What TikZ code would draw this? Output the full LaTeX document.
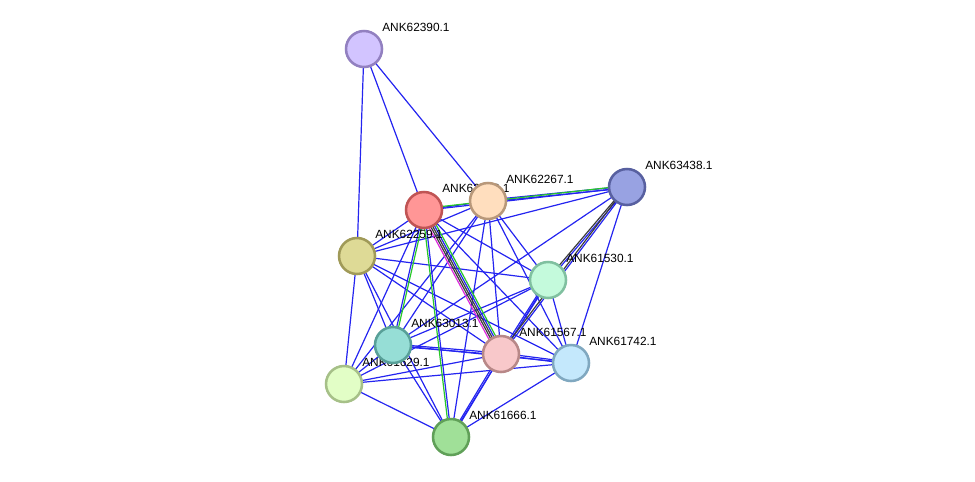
\documentclass[tikz,border=0pt]{standalone}
\usepackage{fontspec}
\setmainfont{Liberation Sans}
\usetikzlibrary{calc}
\definecolor{edgeblue}{RGB}{36,36,240}
\definecolor{edgegreen}{RGB}{40,200,40}
\definecolor{edgegray}{RGB}{60,60,60}
\definecolor{edgepink}{RGB}{220,40,220}
\pgfdeclarelayer{bg}
\pgfsetlayers{bg,main}
% one line of an edge, shifted sideways by #4
\newcommand{\link}[4][edgeblue]{%
  \draw[edge,#1] ($(#2)!#4!90:(#3)$) -- ($(#3)!#4!-90:(#2)$);}

\begin{document}
\begin{tikzpicture}[x=0.75pt,y=-0.75pt,
    font=\fontsize{8.9}{10}\selectfont,
    prot/.style={circle,line width=1.9pt,minimum size=27pt,inner sep=0pt},
    lab/.style={anchor=west,inner sep=0pt},
    edge/.style={line width=0.9pt}
]
\useasboundingbox (0,0) rectangle (975,482);

% proteins, each with its label
\node[prot,fill={rgb,255:red,210;green,196;blue,255},draw={rgb,255:red,146;green,128;blue,192}] (A) at (364,49) {};
\node[lab] (Alab) at ([shift={(18,-22)}]A.center) {ANK62390.1};
\node[prot,fill={rgb,255:red,255;green,150;blue,150},draw={rgb,255:red,192;green,84;blue,84}] (R) at (424,210) {};
\node[lab] (Rlab) at ([shift={(18,-22)}]R.center) {ANK62266.1};
\node[prot,fill={rgb,255:red,255;green,222;blue,190},draw={rgb,255:red,184;green,152;blue,122}] (P) at (488,201) {};
\node[lab] (Plab) at ([shift={(18,-22)}]P.center) {ANK62267.1};
\node[prot,fill={rgb,255:red,152;green,162;blue,226},draw={rgb,255:red,88;green,96;blue,160}] (Q) at (627,187) {};
\node[lab] (Qlab) at ([shift={(18,-22)}]Q.center) {ANK63438.1};
\node[prot,fill={rgb,255:red,222;green,218;blue,150},draw={rgb,255:red,160;green,154;blue,88}] (Y) at (357,256) {};
\node[lab] (Ylab) at ([shift={(18,-22)}]Y.center) {ANK62259.1};
\node[prot,fill={rgb,255:red,196;green,250;blue,220},draw={rgb,255:red,128;green,192;blue,160}] (G) at (548,280) {};
\node[lab] (Glab) at ([shift={(18,-22)}]G.center) {ANK61530.1};
\node[prot,fill={rgb,255:red,226;green,254;blue,198},draw={rgb,255:red,166;green,192;blue,136}] (W) at (344,384) {};
\node[lab] (Wlab) at ([shift={(18,-22)}]W.center) {ANK61629.1};
\node[prot,fill={rgb,255:red,150;green,222;blue,214},draw={rgb,255:red,88;green,160;blue,152}] (T) at (393,345) {};
\node[lab] (Tlab) at ([shift={(18,-22)}]T.center) {ANK63013.1};
\node[prot,fill={rgb,255:red,248;green,200;blue,202},draw={rgb,255:red,184;green,136;blue,136}] (K) at (501,354) {};
\node[lab] (Klab) at ([shift={(18,-22)}]K.center) {ANK61567.1};
\node[prot,fill={rgb,255:red,196;green,232;blue,252},draw={rgb,255:red,128;green,168;blue,192}] (L) at (571,363) {};
\node[lab] (Llab) at ([shift={(18,-22)}]L.center) {ANK61742.1};
\node[prot,fill={rgb,255:red,160;green,224;blue,152},draw={rgb,255:red,96;green,160;blue,88}] (M) at (451,437) {};
\node[lab] (Mlab) at ([shift={(18,-22)}]M.center) {ANK61666.1};

\begin{pgfonlayer}{bg}
% plain blue links
\foreach \a/\b in {A/Y,A/R,A/P,R/P,R/Y,R/G,R/L,R/W,P/Y,P/T,P/W,P/G,P/K,P/L,P/M,
    Q/Y,Q/T,Q/L,Y/G,Y/K,Y/L,Y/T,Y/W,Y/M,G/T,G/W,G/L,G/M,T/L,T/W,T/M,K/W,L/W,L/M,W/M}
  {\link{\a}{\b}{0pt}}
% heavier blue links
\foreach \a/\b in {P/Q,G/K,T/K,K/L,K/M}
  {\link{\a}{\b}{0.7pt}\link{\a}{\b}{-0.7pt}}
% links with more evidence
\link[edgegreen]{R}{Q}{1.1pt}\link{R}{Q}{-0.3pt}
\link[edgegreen]{R}{T}{1.1pt}\link{R}{T}{-0.3pt}
\link[edgegreen]{R}{M}{-1.1pt}\link{R}{M}{0.3pt}
\link[edgegreen]{R}{K}{2.8pt}\link{R}{K}{1.4pt}
\link[edgegray]{R}{K}{0pt}\link[edgegray]{R}{K}{-1.4pt}\link[edgepink]{R}{K}{-2.8pt}
\link{Q}{G}{0.7pt}\link[edgegray]{Q}{G}{-0.7pt}
\link{Q}{K}{0.7pt}\link[edgegray]{Q}{K}{-0.7pt}
\end{pgfonlayer}
\end{tikzpicture}
\end{document}
